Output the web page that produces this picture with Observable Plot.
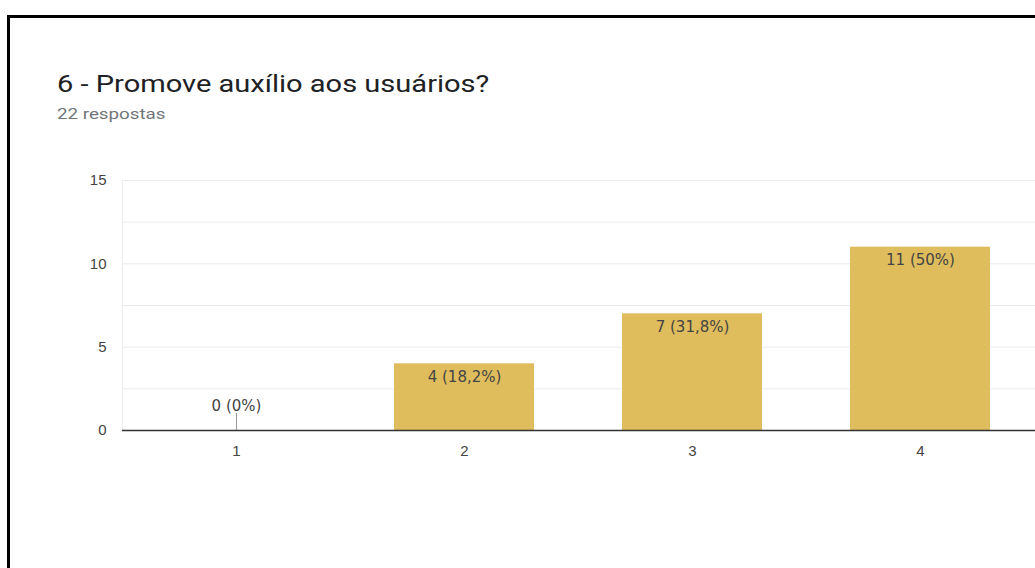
<!DOCTYPE html>
<html><head><meta charset="utf-8">
<script src="https://cdn.jsdelivr.net/npm/d3@7"></script>
<script src="https://cdn.jsdelivr.net/npm/@observablehq/plot@0.6"></script>
<style>
html,body{margin:0;padding:0;background:#fff;width:1035px;height:568px;overflow:hidden;}
#wrap{position:relative;width:1035px;height:568px;overflow:hidden;}
#border{position:absolute;left:7px;top:15px;width:1100px;height:600px;border-left:3px solid #000;border-top:3px solid #000;}
#title{position:absolute;left:57px;top:72px;font-family:Roboto,sans-serif;font-size:24px;line-height:1;color:#202124;white-space:nowrap;transform:scaleX(1.21);transform-origin:0 0;}
#sub{position:absolute;left:57px;top:107px;font-family:Roboto,sans-serif;font-size:15px;line-height:1;color:#70757a;white-space:nowrap;transform:scaleX(1.25);transform-origin:0 0;}
#chart{position:absolute;left:0;top:140px;}
#chart svg{max-width:none;}
</style></head><body>
<div id="wrap">
  <div id="border"></div>
  <div id="title">6 - Promove auxílio aos usuários?</div>
  <div id="sub">22 respostas</div>
  <div id="chart"></div>
</div>
<script>
const categories = ["1", "2", "3", "4"];
const counts = [0, 4, 7, 11];
const labels = ["0 (0%)", "4 (18,2%)", "7 (31,8%)", "11 (50%)"];
const yTicks = [0, 5, 10, 15];
const gridTicks = [2.5, 5, 7.5, 10, 12.5, 15];

const data = categories.map((c, i) => ({cat: c, value: counts[i], label: labels[i]}));
const nonzero = data.filter(d => d.value > 0);
const zero = data.filter(d => d.value === 0);

const font = "Arial, 'Liberation Sans', sans-serif";
const labelFont = "'DejaVu Sans', sans-serif";
const chart = Plot.plot({
  width: 1045,
  height: 340,
  marginLeft: 122,
  marginRight: 5,
  marginTop: 40,
  marginBottom: 50,
  style: {fontFamily: font, fontSize: "15px", color: "#444", background: "transparent", overflow: "visible", maxWidth: "none"},
  x: {domain: categories, paddingInner: 0.386, paddingOuter: 0.206, align: 0.468, label: null},
  y: {domain: [0, 15], label: null},
  marks: [
    Plot.frame({stroke: "#ebebeb"}),
    Plot.ruleY(gridTicks, {stroke: "#ebebeb", strokeWidth: 1}),
    Plot.axisX({tickSize: 0, tickPadding: 15, fontSize: 15, fill: "#444", label: null}),
    Plot.axisY({ticks: yTicks, tickSize: 0, tickPadding: 16, fontSize: 15, fill: "#444", label: null, tickFormat: d => String(d)}),
    Plot.barY(nonzero, {x: "cat", y: "value", fill: "#dfbc5c"}),
    Plot.ruleX(zero, {x: "cat", y1: 0, y2: 0, insetTop: -17, stroke: "#999", strokeWidth: 1}),
    Plot.ruleY([0], {stroke: "#333", strokeWidth: 1.5}),
    Plot.text(nonzero, {x: "cat", y: "value", text: "label", dy: 13, fill: "#444", fontSize: 15, fontFamily: labelFont, lineAnchor: "middle"}),
    Plot.text(zero, {x: "cat", y: "value", text: "label", dy: -24, fill: "#444", fontSize: 15, fontFamily: labelFont, lineAnchor: "middle"})
  ]
});
document.getElementById("chart").appendChild(chart);
</script>
</body></html>
